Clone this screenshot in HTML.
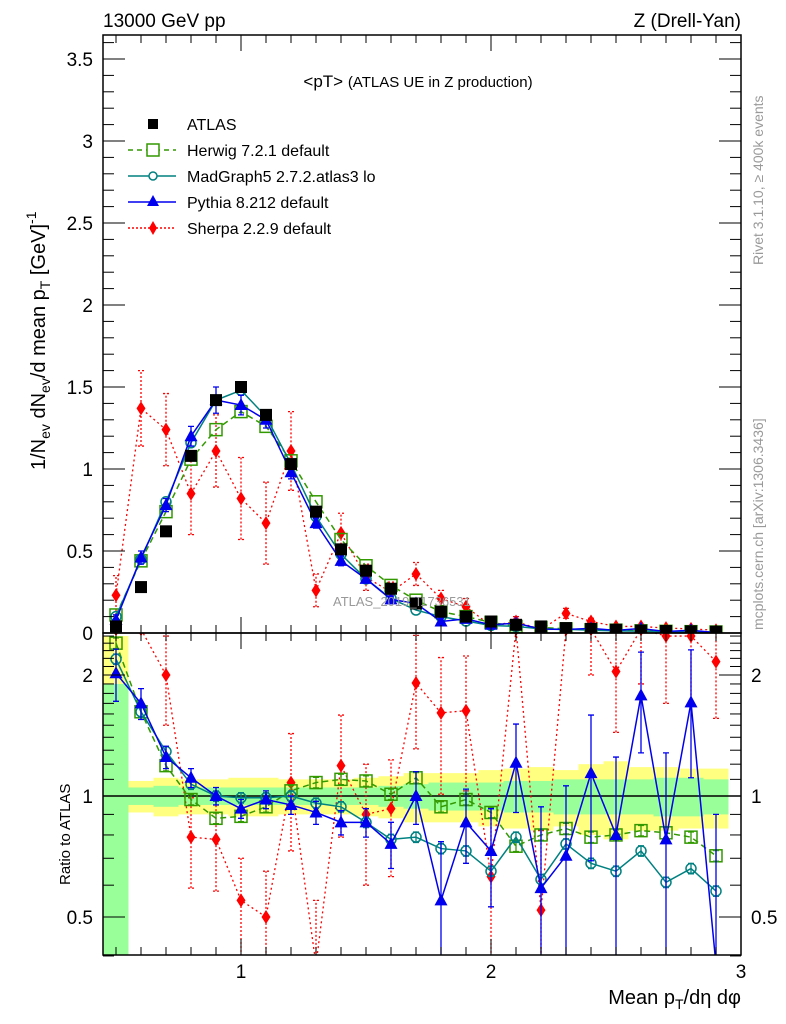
<!DOCTYPE html>
<html><head><meta charset="utf-8">
<style>
html,body{margin:0;padding:0;background:#fff;width:786px;height:1024px;overflow:hidden;}
svg{display:block;font-family:"Liberation Sans",Arial,sans-serif;}
</style></head>
<body>
<svg id="chart" width="786" height="1024" viewBox="0 0 786 1024" xmlns="http://www.w3.org/2000/svg">
<defs>
<clipPath id="clipMain"><rect x="103" y="35" width="638" height="598"/></clipPath>
<clipPath id="clipRatio"><rect x="103" y="633" width="638" height="322"/></clipPath>
</defs>
<g id="bands" clip-path="url(#clipRatio)"></g>
<g id="ratioMarks" clip-path="url(#clipRatio)"></g>
<g id="mainMarks" clip-path="url(#clipMain)"></g>
<g id="axes"></g>
<text x="103" y="27" font-size="19">13000 GeV pp</text>
<text x="741" y="27" font-size="19" text-anchor="end">Z (Drell-Yan)</text>
<text x="418" y="87" font-size="17" text-anchor="middle">&lt;pT&gt; <tspan font-size="15">(ATLAS UE in Z production)</tspan></text>
<text x="333" y="606" font-size="13" fill="#999">ATLAS_2019_I1736531</text>
<text transform="translate(763,265) rotate(-90)" font-size="14" fill="#999">Rivet 3.1.10, ≥ 400k events</text>
<text transform="translate(763,630) rotate(-90)" font-size="14" fill="#999">mcplots.cern.ch [arXiv:1306.3436]</text>
<text transform="translate(45,470) rotate(-90)" font-size="20">1/N<tspan font-size="14" dy="5">ev</tspan><tspan dy="-5"> dN</tspan><tspan font-size="14" dy="5">ev</tspan><tspan dy="-5">/d mean p</tspan><tspan font-size="14" dy="5">T</tspan><tspan dy="-5"> [GeV]</tspan><tspan font-size="14" dy="-9">-1</tspan></text>
<text transform="translate(70,885) rotate(-90)" font-size="15">Ratio to ATLAS</text>
<text x="741" y="1004" font-size="20" text-anchor="end">Mean p<tspan font-size="14" dy="5">T</tspan><tspan dy="-5">/dη dφ</tspan></text>
<g id="legend"></g>
</svg>
<script>
const xs = [0.5,0.6,0.7,0.8,0.9,1.0,1.1,1.2,1.3,1.4,1.5,1.6,1.7,1.8,1.9,2.0,2.1,2.2,2.3,2.4,2.5,2.6,2.7,2.8,2.9];
const atlas = [0.04,0.28,0.62,1.08,1.42,1.50,1.33,1.03,0.74,0.51,0.38,0.27,0.18,0.13,0.10,0.07,0.05,0.04,0.03,0.025,0.02,0.015,0.012,0.01,0.008];
const herwig = [0.11,0.44,0.74,1.06,1.24,1.35,1.26,1.05,0.80,0.57,0.41,0.29,0.20,0.13,0.10,0.065,0.04,0.034,0.025,0.02,0.017,0.013,0.010,0.008,0.006];
const madgraph = [0.10,0.45,0.80,1.16,1.42,1.48,1.32,1.03,0.71,0.48,0.33,0.21,0.14,0.10,0.073,0.046,0.04,0.025,0.023,0.017,0.013,0.011,0.007,0.007,0.005];
const pythia = [0.08,0.46,0.78,1.20,1.42,1.39,1.30,0.98,0.67,0.44,0.33,0.205,0.18,0.07,0.086,0.05,0.06,0.024,0.021,0.028,0.016,0.027,0.009,0.017,0.002];
const sherpa = [0.23,1.37,1.24,0.85,1.11,0.82,0.67,1.11,0.26,0.61,0.34,0.25,0.36,0.21,0.16,0.044,0.07,0.021,0.12,0.07,0.04,0.04,0.03,0.025,0.017];
const sherpaErr = [0.12,0.23,0.22,0.25,0.22,0.25,0.25,0.24,0.1,0.12,0.08,0.06,0.07,0.05,0.05,0.02,0.03,0.02,0.03,0.02,0.01,0.01,0.01,0.01,0.01];
const pythiaErr = [0.03,0.04,0.04,0.06,0.08,0.06,0.05,0.04,0.03,0.03,0.02,0.02,0.02,0.02,0.02,0.01,0.01,0.01,0.01,0.01,0.01,0.01,0.01,0.01,0.01];
const rHerwig = [2.40,1.62,1.19,0.98,0.88,0.89,0.94,1.03,1.08,1.10,1.09,1.01,1.11,0.94,0.98,0.91,0.75,0.80,0.83,0.79,0.80,0.82,0.81,0.79,0.71];
const rMadgraph = [2.19,1.62,1.29,1.07,1.00,0.99,0.99,1.00,0.96,0.94,0.86,0.78,0.79,0.74,0.73,0.65,0.79,0.62,0.76,0.68,0.65,0.73,0.61,0.66,0.58];
const rPythia = [2.02,1.70,1.25,1.11,1.00,0.93,0.98,0.95,0.91,0.86,0.86,0.76,1.00,0.55,0.86,0.73,1.21,0.59,0.71,1.14,0.80,1.78,0.78,1.71,0.30];
const rPythiaErr = [0.3,0.15,0.08,0.06,0.05,0.05,0.05,0.05,0.06,0.06,0.07,0.1,0.15,0.22,0.18,0.2,0.3,0.35,0.35,0.45,0.45,0.5,0.5,0.6,0.6];
const rSherpa = [5.0,4.9,2.0,0.79,0.78,0.55,0.50,1.08,0.35,1.19,0.90,0.93,1.91,1.61,1.63,0.63,3.5,0.52,4.0,2.8,2.04,2.7,2.5,2.5,2.16];
const rSherpaErr = [1.5,1.5,0.5,0.2,0.2,0.15,0.15,0.35,0.2,0.4,0.3,0.3,0.6,0.6,0.6,0.3,0.8,0.3,1.0,0.8,0.6,0.8,0.8,0.8,0.6];
const bandGreen = [0.9,0.05,0.06,0.05,0.05,0.05,0.05,0.05,0.05,0.05,0.05,0.06,0.07,0.08,0.08,0.08,0.09,0.09,0.10,0.10,0.10,0.10,0.11,0.11,0.10];
const bandYellow = [1.5,0.09,0.11,0.10,0.10,0.11,0.11,0.10,0.10,0.10,0.11,0.12,0.14,0.14,0.14,0.16,0.17,0.18,0.16,0.20,0.22,0.18,0.18,0.17,0.17];
const mainTicks = ["0","0.5","1","1.5","2","2.5","3","3.5"];
const ratioTicks = ["0.5","1","2"];
const xTicks = ["1","2","3"];

const NS="http://www.w3.org/2000/svg";
const X = v => -9 + 250*v;
const Y = v => 633 - 164*v;
const R = v => 796 - 121*Math.log2(v);
const Rcl = v => R(Math.max(0.38,Math.min(2.6,v)));
function mk(parent, tag, attrs){const e=document.createElementNS(NS,tag);for(const k in attrs)e.setAttribute(k,attrs[k]);parent.appendChild(e);return e;}
const axes=document.getElementById('axes');
const bands=document.getElementById('bands');
const mainG=document.getElementById('mainMarks');
const ratioG=document.getElementById('ratioMarks');

xs.forEach((x,i)=>{
  const y1=document.createElementNS(NS,'rect');
  
  
  y1.setAttribute('x',X(x-0.05));y1.setAttribute('width',X(x+0.05)-X(x-0.05));
  const yt=Rcl(1+bandYellow[i]), yb=Rcl(1-bandYellow[i]);
  y1.setAttribute('y',yt);y1.setAttribute('height',yb-yt);y1.setAttribute('fill','#ffff80');
  bands.appendChild(y1);
});
xs.forEach((x,i)=>{
  const g1=document.createElementNS(NS,'rect');
  
  
  g1.setAttribute('x',X(x-0.05));g1.setAttribute('width',X(x+0.05)-X(x-0.05));
  const yt=Rcl(1+bandGreen[i]), yb=Rcl(1-bandGreen[i]);
  g1.setAttribute('y',yt);g1.setAttribute('height',yb-yt);g1.setAttribute('fill','#99ff99');
  bands.appendChild(g1);
});
mk(ratioG,'line',{x1:103,x2:741,y1:R(1),y2:R(1),stroke:'#000','stroke-width':1.5});

function marker(g,type,cx,cy,color,name){
  let e;
  if(type==='sq'){e=mk(g,'rect',{x:cx-6,y:cy-6,width:12,height:12,fill:'#000'});}
  else if(type==='osq'){e=mk(g,'rect',{x:cx-6,y:cy-6,width:12,height:12,fill:'none',stroke:color,'stroke-width':1.5});}
  else if(type==='circ'){e=mk(g,'circle',{cx:cx,cy:cy,r:5,fill:'none',stroke:color,'stroke-width':1.5});}
  else if(type==='tri'){e=mk(g,'polygon',{points:`${cx},${cy-7} ${cx-6.5},${cy+5} ${cx+6.5},${cy+5}`,fill:color});}
  else {e=mk(g,'polygon',{points:`${cx},${cy-7} ${cx-4.5},${cy} ${cx},${cy+7} ${cx+4.5},${cy}`,fill:color});}
  
  
}
function series(g,vals,yf,color,dash,type,name,errs){
  const pts=xs.map((x,i)=>`${X(x)},${yf(vals[i])}`).join(' ');
  const pl=mk(g,'polyline',{points:pts,fill:'none',stroke:color,'stroke-width':dash==='dot'?1.3:1.5,'stroke-dasharray':dash==='dash'?'6,4':(dash==='dot'?'2,3':'none')});
  
  
  if(errs){xs.forEach((x,i)=>{
    const lo=yf(Math.max(0.02,vals[i]-errs[i])), hi=yf(vals[i]+errs[i]);
    const e=mk(g,'path',{d:`M${X(x)},${lo}V${hi}M${X(x)-3},${lo}h6M${X(x)-3},${hi}h6`,stroke:color,'stroke-width':1.3,fill:'none','stroke-dasharray':dash==='dot'?'2,2':'none'});
    
    
  });}
  xs.forEach((x,i)=>marker(g,type,X(x),yf(vals[i]),color,name+'-point'));
}
const Yc=v=>Y(Math.min(3.6,v));
series(mainG,sherpa,Yc,'#ff0000','dot','dia','sherpa',sherpaErr);
series(mainG,herwig,Yc,'#339900','dash','osq','herwig',null);
series(mainG,madgraph,Yc,'#008080','solid','circ','madgraph',null);
series(mainG,pythia,Yc,'#0000ee','solid','tri','pythia',pythiaErr);
xs.forEach((x,i)=>marker(mainG,'sq',X(x),Y(atlas[i]),'#000','atlas-point'));

const Rc=Rcl;
series(ratioG,rSherpa,Rc,'#ff0000','dot','dia','sherpa-ratio',rSherpaErr);
series(ratioG,rHerwig,Rc,'#339900','dash','osq','herwig-ratio',rHerwig.map(v=>v*0.03));
series(ratioG,rMadgraph,Rc,'#008080','solid','circ','madgraph-ratio',rMadgraph.map(v=>v*0.03));
series(ratioG,rPythia,Rc,'#0000ee','solid','tri','pythia-ratio',rPythiaErr);

mk(axes,'rect',{x:103,y:35,width:638,height:598,fill:'none',stroke:'#000','stroke-width':1.5});
mk(axes,'rect',{x:103,y:633,width:638,height:322,fill:'none',stroke:'#000','stroke-width':1.5});
for(let k=5;k<=29;k++){
  const v=k/10, px=X(v), major=(k%10===0), L=major?16:8;
  [[35,1],[633,-1],[633,1],[955,-1]].forEach(([y0,d])=>mk(axes,'line',{x1:px,x2:px,y1:y0,y2:y0+d*L,stroke:'#000','stroke-width':1}));
}
xTicks.forEach(t=>{
  const tx=mk(axes,'text',{x:X(+t),y:978,'font-size':19,'text-anchor':'middle'});tx.textContent=t;
  
  
});
for(let k=0;k<=36;k++){
  const v=k/10, py=Y(v), major=(k%5===0), L=major?22:11;
  mk(axes,'line',{x1:103,x2:103+L,y1:py,y2:py,stroke:'#000'});
  mk(axes,'line',{x1:741,x2:741-L,y1:py,y2:py,stroke:'#000'});
}
mainTicks.forEach(t=>{
  const tx=mk(axes,'text',{x:93,y:Y(+t)+7,'font-size':19,'text-anchor':'end'});tx.textContent=t;
  
  
});
[0.4,0.5,0.6,0.7,0.8,0.9,1,1.1,1.2,1.3,1.4,1.5,1.6,1.7,1.8,1.9,2,2.1,2.2,2.3,2.4,2.5].forEach(v=>{
  const major=(v===0.5||v===1||v===2), L=major?22:11, py=R(v);
  mk(axes,'line',{x1:103,x2:103+L,y1:py,y2:py,stroke:'#000'});
  mk(axes,'line',{x1:741,x2:741-L,y1:py,y2:py,stroke:'#000'});
});
ratioTicks.forEach(t=>{
  const a=mk(axes,'text',{x:93,y:R(+t)+7,'font-size':19,'text-anchor':'end'});a.textContent=t;
  
  
  const b=mk(axes,'text',{x:751,y:R(+t)+7,'font-size':19});b.textContent=t;
  
  
});
const lg=document.getElementById('legend');
const entries=[['ATLAS','#000','none','sq'],['Herwig 7.2.1 default','#339900','dash','osq'],['MadGraph5 2.7.2.atlas3 lo','#008080','solid','circ'],['Pythia 8.212 default','#0000ee','solid','tri'],['Sherpa 2.2.9 default','#ff0000','dot','dia']];
entries.forEach((e,i)=>{
  const y=124+26*i;
  const g=mk(lg,'g',{});
  
  
  if(e[2]!=='none') mk(g,'line',{x1:128,x2:176,y1:y,y2:y,stroke:e[1],'stroke-width':1.5,'stroke-dasharray':e[2]==='dash'?'5,4':(e[2]==='dot'?'2,2':'none')});
  if(e[3]==='sq') mk(g,'rect',{x:148,y:y-5,width:10,height:10,fill:'#000'});
  else if(e[3]==='osq') mk(g,'rect',{x:147,y:y-6,width:12,height:12,fill:'#fff',stroke:e[1],'stroke-width':1.5});
  else if(e[3]==='circ') mk(g,'circle',{cx:153,cy:y,r:4,fill:'#fff',stroke:e[1],'stroke-width':1.5});
  else if(e[3]==='tri') mk(g,'polygon',{points:`153,${y-7} 147,${y+4} 159,${y+4}`,fill:e[1]});
  else mk(g,'polygon',{points:`153,${y-7} 149,${y} 153,${y+7} 157,${y}`,fill:e[1]});
  const t=mk(g,'text',{x:187,y:y+6,'font-size':16});t.textContent=e[0];
});
</script>
</body></html>
